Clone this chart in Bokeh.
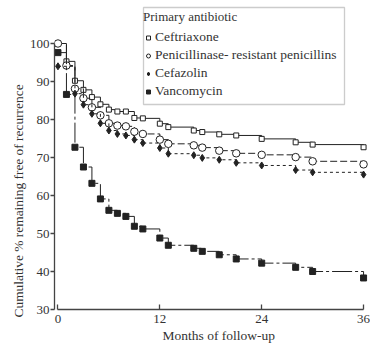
from bokeh.plotting import figure
from bokeh.models import Range1d, FixedTicker, Legend, LegendItem, Title, BoxAnnotation
from bokeh.embed import file_html
from bokeh.resources import INLINE

# Data
months = [0, 1, 2, 3, 4, 5, 6, 7, 8, 9, 10, 12, 13, 16, 17, 19, 21, 24, 28, 30, 36]
ceftriaxone = [100, 95.3, 90.2, 87.8, 85.9, 84.0, 82.6, 82.1, 82.1, 80.4, 80.3,
               78.9, 78.0, 77.1, 76.7, 76.1, 75.8, 74.9, 74.0, 73.4, 72.7]
penicillins = [100, 94.2, 88.1, 85.6, 83.2, 81.1, 79.0, 78.4, 78.2, 76.8, 76.2,
               74.7, 73.6, 73.2, 72.6, 71.8, 71.1, 70.7, 70.1, 69.0, 68.2]
cefazolin_months = [0, 2, 3, 4, 5, 6, 7, 8, 9, 10, 12, 13, 16, 17, 19, 21, 24, 28, 30, 36]
cefazolin = [94.0, 86.8, 83.9, 81.5, 79.0, 77.1, 76.2, 75.8, 74.7, 73.8,
             72.5, 71.0, 70.6, 69.9, 69.4, 68.6, 67.9, 66.7, 66.1, 65.5]
vancomycin = [97.6, 86.6, 72.7, 67.5, 63.2, 59.1, 56.1, 55.3, 54.5, 51.9, 51.2,
              48.8, 46.9, 46.1, 45.3, 44.4, 43.3, 42.2, 41.1, 40.0, 38.3]
x_ticks = [0, 12, 24, 36]
y_ticks = [30, 40, 50, 60, 70, 80, 90, 100]
labels = ["Ceftriaxone", "Penicillinase- resistant penicillins", "Cefazolin", "Vancomycin"]
x_label = "Months of follow-up"
y_label = "Cumulative % remaining free of recurrence"

FONT = "Liberation Serif"
INK = "#222222"

p = figure(width=370, height=344, output_backend="svg", toolbar_location=None,
           x_range=Range1d(-0.408, 36.816), y_range=Range1d(30, 111.316),
           min_border_left=54, min_border_right=0, min_border_top=0, min_border_bottom=35)
p.outline_line_color = None
p.xgrid.visible = False
p.ygrid.visible = False

# Steps + markers
p.step(months, ceftriaxone, mode="after", line_color=INK, line_width=1)
r1 = p.scatter(months, ceftriaxone, marker="square", size=5, fill_color="white",
               line_color=INK, line_width=1)

p.step(months, penicillins, mode="after", line_color=INK, line_width=1, line_dash="7 3")
r2 = p.scatter(months, penicillins, marker="circle", size=7.5, fill_color="white",
               line_color=INK, line_width=1)

p.step(cefazolin_months, cefazolin, mode="after", line_color=INK, line_width=1, line_dash="3 3")
r3 = p.scatter(cefazolin_months, cefazolin, marker="diamond", size=7, fill_color=INK,
               line_color=INK, line_width=1)

p.step(months, vancomycin, mode="after", line_color=INK, line_width=1, line_dash="20 3 3 3")
r4 = p.scatter(months, vancomycin, marker="square", size=6, fill_color=INK,
               line_color=INK, line_width=1)

# Axes
p.xaxis.ticker = FixedTicker(ticks=x_ticks)
p.yaxis.ticker = FixedTicker(ticks=y_ticks)
p.xaxis.bounds = (0, 36)
p.yaxis.bounds = (30, 100)
for ax in (p.xaxis, p.yaxis):
    ax.axis_line_color = "#444444"
    ax.axis_line_width = 1.3
    ax.major_tick_line_color = "#444444"
    ax.major_tick_line_width = 1.3
    ax.minor_tick_line_color = None
    ax.major_label_text_font = FONT
    ax.major_label_text_font_size = "13px"
    ax.major_label_text_color = "#333333"
p.xaxis.major_tick_in = 5
p.xaxis.major_tick_out = 0
p.xaxis.major_label_standoff = 5
p.yaxis.major_tick_in = 0
p.yaxis.major_tick_out = 4
p.yaxis.major_label_standoff = 1

# Axis titles (side titles, offset like the reference)
xt = Title(text=x_label, align="left", offset=108, vertical_align="bottom",
           text_font=FONT, text_font_size="13.5px", text_font_style="normal",
           text_color="#333333", standoff=0)
p.add_layout(xt, "below")
yt = Title(text=y_label, align="left", offset=-8, vertical_align="middle",
           text_font=FONT, text_font_size="13.4px", text_font_style="normal",
           text_color="#333333", standoff=0)
p.add_layout(yt, "left")

# Legend frame (screen units relative to the plot frame)
box = BoxAnnotation(left=89, right=290, bottom=205, top=302,
                    left_units="screen", right_units="screen",
                    bottom_units="screen", top_units="screen",
                    fill_color="white", fill_alpha=1.0,
                    line_color="#555555", line_width=1.3)
p.add_layout(box)

legend = Legend(
    items=[LegendItem(label=labels[0], renderers=[r1]),
           LegendItem(label=labels[1], renderers=[r2]),
           LegendItem(label=labels[2], renderers=[r3]),
           LegendItem(label=labels[3], renderers=[r4])],
    title="Primary antibiotic",
    location=(89, 210),
)
legend.title_text_font = FONT
legend.title_text_font_size = "13px"
legend.title_text_font_style = "normal"
legend.title_text_color = "#333333"
legend.title_standoff = 4
legend.label_text_font = FONT
legend.label_text_font_size = "13.5px"
legend.label_text_color = "#333333"
legend.label_height = 15
legend.glyph_height = 15
legend.glyph_width = 10
legend.label_standoff = 2
legend.spacing = 2
legend.padding = 6
legend.margin = 0
legend.border_line_color = None
legend.background_fill_color = None
legend.background_fill_alpha = 0
p.add_layout(legend)

open("out.html", "w").write(file_html(p, INLINE))
